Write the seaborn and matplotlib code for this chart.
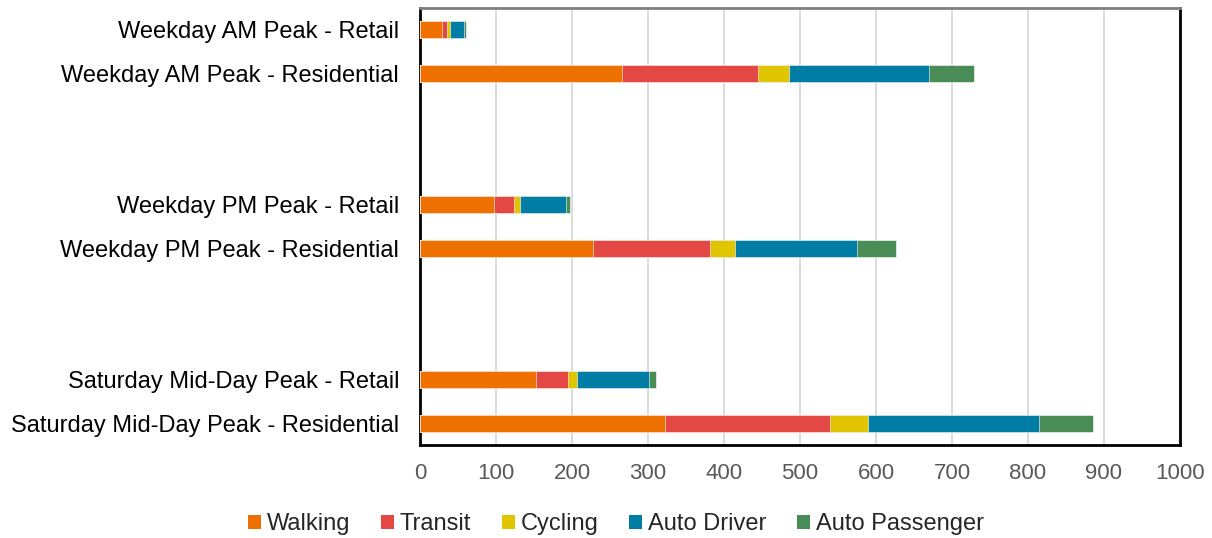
import numpy as np
import pandas as pd
import matplotlib
matplotlib.use("Agg")
import matplotlib.pyplot as plt
import seaborn as sns
from matplotlib.patches import Patch

categories = [
    "Weekday AM Peak - Retail",
    "Weekday AM Peak - Residential",
    " ", "  ",
    "Weekday PM Peak - Retail",
    "Weekday PM Peak - Residential",
    "   ", "    ",
    "Saturday Mid-Day Peak - Retail",
    "Saturday Mid-Day Peak - Residential",
]
data_categories = [
    "Weekday AM Peak - Retail",
    "Weekday AM Peak - Residential",
    "Weekday PM Peak - Retail",
    "Weekday PM Peak - Residential",
    "Saturday Mid-Day Peak - Retail",
    "Saturday Mid-Day Peak - Residential",
]
modes = ["Walking", "Transit", "Cycling", "Auto Driver", "Auto Passenger"]
walking = [29, 266, 97, 228, 152, 323]
transit = [7, 179, 27, 153, 43, 217]
cycling = [3, 40, 8, 34, 11, 49]
auto_driver = [19, 185, 60, 160, 95, 226]
auto_passenger = [2, 59, 6, 51, 10, 71]
colors = ["#EE7100", "#E34845", "#E0C500", "#007DA5", "#4A8C55"]

sns.set_theme(style="white")
plt.rcParams["font.family"] = ["Liberation Sans", "DejaVu Sans"]

df = pd.DataFrame({"category": data_categories, "Walking": walking, "Transit": transit,
                   "Cycling": cycling, "Auto Driver": auto_driver,
                   "Auto Passenger": auto_passenger})
cum = df[modes].cumsum(axis=1)

fig = plt.figure(figsize=(12.12, 5.38), dpi=100)
ax = fig.add_axes([420/1212, 1 - 445/538, (1180-420)/1212, (445-8)/538])

for mode, col in reversed(list(zip(modes, colors))):
    d = pd.DataFrame({"category": df["category"], "value": cum[mode]})
    sns.barplot(data=d, y="category", x="value", order=categories, color=col,
                width=0.39, saturation=1, orient="h", ax=ax, zorder=3,
                edgecolor="white", linewidth=0.4)

ax.set_xlim(0, 1000)
ax.set_xticks(np.arange(0, 1001, 100))
ax.set_ylim(len(categories) - 0.5, -0.5)
ax.set_xlabel("")
ax.set_ylabel("")
ax.grid(axis="x", color="#D9D9D9", linewidth=1.3, zorder=0)
ax.set_axisbelow(True)
ax.tick_params(axis="x", labelsize=16, labelcolor="#595959", pad=13, length=0)
ax.tick_params(axis="y", labelsize=17, labelcolor="#000000", pad=15, length=0)
for side in ["left", "right", "bottom"]:
    ax.spines[side].set_color("black")
    ax.spines[side].set_linewidth(2)
ax.spines["top"].set_color("#7F7F7F")
ax.spines["top"].set_linewidth(2)

handles = [Patch(facecolor=c, edgecolor="none") for c in colors]
fig.legend(handles, modes, loc="center", bbox_to_anchor=(616/1212, 1 - 524/538),
           ncol=5, frameon=False, fontsize=17, handlelength=0.55, handleheight=0.55,
           handletextpad=0.25, columnspacing=1.3)

fig.savefig("out.png", dpi=100)
